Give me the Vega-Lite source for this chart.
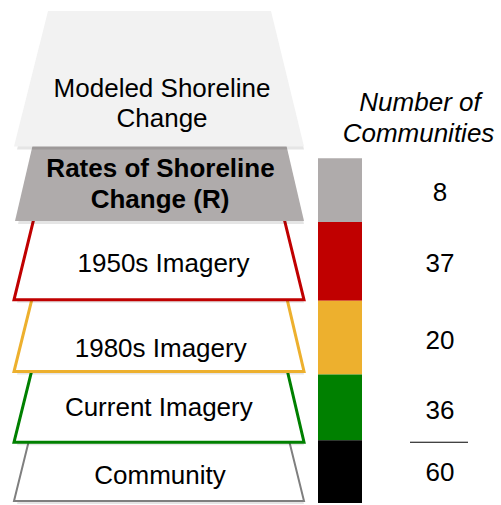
{
  "$schema": "https://vega.github.io/schema/vega-lite/v6.json",
  "width": 501,
  "height": 505,
  "padding": 0,
  "autosize": {"type": "fit", "contains": "padding"},
  "background": "white",
  "config": {"view": {"stroke": null}, "axis": {"disable": true}},
  "datasets": {
    "shapes": [
      {"tier": "Community", "y": 442, "xl": 29, "xr": 289},
      {"tier": "Community", "y": 503, "xl": 14, "xr": 304},
      {"tier": "Current", "y": 371, "xl": 32, "xr": 287},
      {"tier": "Current", "y": 444, "xl": 14, "xr": 304},
      {"tier": "1980s", "y": 300, "xl": 32, "xr": 287},
      {"tier": "1980s", "y": 373, "xl": 14, "xr": 304},
      {"tier": "1950s", "y": 219, "xl": 34, "xr": 284},
      {"tier": "1950s", "y": 301, "xl": 14, "xr": 304},
      {"tier": "Rates", "y": 140, "xl": 34, "xr": 285},
      {"tier": "Rates", "y": 222, "xl": 15, "xr": 304},
      {"tier": "Modeled", "y": 11, "xl": 48, "xr": 271},
      {"tier": "Modeled", "y": 147, "xl": 14, "xr": 304}
    ],
    "labels": [
      {"text": "Modeled Shoreline", "x": 162, "y": 97, "weight": "normal"},
      {"text": "Change", "x": 162, "y": 128, "weight": "normal"},
      {"text": "Rates of Shoreline", "x": 160.5, "y": 178, "weight": "bold"},
      {"text": "Change (R)", "x": 160, "y": 209, "weight": "bold"},
      {"text": "1950s Imagery", "x": 163.5, "y": 273, "weight": "normal"},
      {"text": "1980s Imagery", "x": 160.7, "y": 358, "weight": "normal"},
      {"text": "Current Imagery", "x": 158.8, "y": 418, "weight": "normal"},
      {"text": "Community", "x": 160, "y": 486, "weight": "normal"}
    ],
    "bars": [
      {"tier": "Rates", "top": 159, "bottom": 223, "count": 8, "ty": 202},
      {"tier": "1950s", "top": 223, "bottom": 302, "count": 37, "ty": 273},
      {"tier": "1980s", "top": 302, "bottom": 376, "count": 20, "ty": 350},
      {"tier": "Current", "top": 376, "bottom": 442, "count": 36, "ty": 421},
      {"tier": "Community", "top": 442, "bottom": 505, "count": 60, "ty": 483}
    ],
    "titles": [
      {"text": "Number of", "x": 420, "y": 111},
      {"text": "Communities", "x": 418.5, "y": 143}
    ],
    "totalLine": [{"x": 410, "x2": 468, "y": 444}]
  },
  "layer": [
    {
      "data": {"name": "shapes"},
      "transform": [{"filter": "datum.tier === 'Community'"}],
      "mark": {"type": "area", "orient": "horizontal", "fill": "#000000", "opacity": 0.1, "xOffset": 3, "yOffset": 3},
      "encoding": {
        "y": {"field": "y", "type": "quantitative", "scale": {"domain": [0, 505], "reverse": true, "nice": false, "zero": false}},
        "x": {"field": "xl", "type": "quantitative", "scale": {"domain": [0, 501], "nice": false, "zero": false}},
        "x2": {"field": "xr"}
      }
    },
    {
      "data": {"name": "shapes"},
      "transform": [{"filter": "datum.tier === 'Community'"}],
      "mark": {"type": "area", "orient": "horizontal", "fill": "white", "stroke": "#7f7f7f", "strokeWidth": 2, "strokeJoin": "miter"},
      "encoding": {
        "y": {"field": "y", "type": "quantitative", "scale": {"domain": [0, 505], "reverse": true, "nice": false, "zero": false}},
        "x": {"field": "xl", "type": "quantitative", "scale": {"domain": [0, 501], "nice": false, "zero": false}},
        "x2": {"field": "xr"}
      }
    },
    {
      "data": {"name": "shapes"},
      "transform": [{"filter": "datum.tier === 'Current'"}],
      "mark": {"type": "area", "orient": "horizontal", "fill": "#000000", "opacity": 0.1, "xOffset": 3, "yOffset": 3},
      "encoding": {
        "y": {"field": "y", "type": "quantitative", "scale": {"domain": [0, 505], "reverse": true, "nice": false, "zero": false}},
        "x": {"field": "xl", "type": "quantitative", "scale": {"domain": [0, 501], "nice": false, "zero": false}},
        "x2": {"field": "xr"}
      }
    },
    {
      "data": {"name": "shapes"},
      "transform": [{"filter": "datum.tier === 'Current'"}],
      "mark": {"type": "area", "orient": "horizontal", "fill": "white", "stroke": "#008000", "strokeWidth": 3, "strokeJoin": "miter"},
      "encoding": {
        "y": {"field": "y", "type": "quantitative", "scale": {"domain": [0, 505], "reverse": true, "nice": false, "zero": false}},
        "x": {"field": "xl", "type": "quantitative", "scale": {"domain": [0, 501], "nice": false, "zero": false}},
        "x2": {"field": "xr"}
      }
    },
    {
      "data": {"name": "shapes"},
      "transform": [{"filter": "datum.tier === '1980s'"}],
      "mark": {"type": "area", "orient": "horizontal", "fill": "#000000", "opacity": 0.1, "xOffset": 3, "yOffset": 3},
      "encoding": {
        "y": {"field": "y", "type": "quantitative", "scale": {"domain": [0, 505], "reverse": true, "nice": false, "zero": false}},
        "x": {"field": "xl", "type": "quantitative", "scale": {"domain": [0, 501], "nice": false, "zero": false}},
        "x2": {"field": "xr"}
      }
    },
    {
      "data": {"name": "shapes"},
      "transform": [{"filter": "datum.tier === '1980s'"}],
      "mark": {"type": "area", "orient": "horizontal", "fill": "white", "stroke": "#edb02e", "strokeWidth": 3, "strokeJoin": "miter"},
      "encoding": {
        "y": {"field": "y", "type": "quantitative", "scale": {"domain": [0, 505], "reverse": true, "nice": false, "zero": false}},
        "x": {"field": "xl", "type": "quantitative", "scale": {"domain": [0, 501], "nice": false, "zero": false}},
        "x2": {"field": "xr"}
      }
    },
    {
      "data": {"name": "shapes"},
      "transform": [{"filter": "datum.tier === '1950s'"}],
      "mark": {"type": "area", "orient": "horizontal", "fill": "#000000", "opacity": 0.1, "xOffset": 3, "yOffset": 3},
      "encoding": {
        "y": {"field": "y", "type": "quantitative", "scale": {"domain": [0, 505], "reverse": true, "nice": false, "zero": false}},
        "x": {"field": "xl", "type": "quantitative", "scale": {"domain": [0, 501], "nice": false, "zero": false}},
        "x2": {"field": "xr"}
      }
    },
    {
      "data": {"name": "shapes"},
      "transform": [{"filter": "datum.tier === '1950s'"}],
      "mark": {"type": "area", "orient": "horizontal", "fill": "white", "stroke": "#c00000", "strokeWidth": 3, "strokeJoin": "miter"},
      "encoding": {
        "y": {"field": "y", "type": "quantitative", "scale": {"domain": [0, 505], "reverse": true, "nice": false, "zero": false}},
        "x": {"field": "xl", "type": "quantitative", "scale": {"domain": [0, 501], "nice": false, "zero": false}},
        "x2": {"field": "xr"}
      }
    },
    {
      "data": {"name": "shapes"},
      "transform": [{"filter": "datum.tier === 'Rates'"}],
      "mark": {"type": "area", "orient": "horizontal", "fill": "#000000", "opacity": 0.1, "xOffset": 3, "yOffset": 3},
      "encoding": {
        "y": {"field": "y", "type": "quantitative", "scale": {"domain": [0, 505], "reverse": true, "nice": false, "zero": false}},
        "x": {"field": "xl", "type": "quantitative", "scale": {"domain": [0, 501], "nice": false, "zero": false}},
        "x2": {"field": "xr"}
      }
    },
    {
      "data": {"name": "shapes"},
      "transform": [{"filter": "datum.tier === 'Rates'"}],
      "mark": {"type": "area", "orient": "horizontal", "fill": "#afabab"},
      "encoding": {
        "y": {"field": "y", "type": "quantitative", "scale": {"domain": [0, 505], "reverse": true, "nice": false, "zero": false}},
        "x": {"field": "xl", "type": "quantitative", "scale": {"domain": [0, 501], "nice": false, "zero": false}},
        "x2": {"field": "xr"}
      }
    },
    {
      "data": {"name": "shapes"},
      "transform": [{"filter": "datum.tier === 'Modeled'"}],
      "mark": {"type": "area", "orient": "horizontal", "fill": "#000000", "opacity": 0.1, "xOffset": 3, "yOffset": 3},
      "encoding": {
        "y": {"field": "y", "type": "quantitative", "scale": {"domain": [0, 505], "reverse": true, "nice": false, "zero": false}},
        "x": {"field": "xl", "type": "quantitative", "scale": {"domain": [0, 501], "nice": false, "zero": false}},
        "x2": {"field": "xr"}
      }
    },
    {
      "data": {"name": "shapes"},
      "transform": [{"filter": "datum.tier === 'Modeled'"}],
      "mark": {"type": "area", "orient": "horizontal", "fill": "#f2f2f2"},
      "encoding": {
        "y": {"field": "y", "type": "quantitative", "scale": {"domain": [0, 505], "reverse": true, "nice": false, "zero": false}},
        "x": {"field": "xl", "type": "quantitative", "scale": {"domain": [0, 501], "nice": false, "zero": false}},
        "x2": {"field": "xr"}
      }
    },
    {
      "data": {"name": "labels"},
      "transform": [{"filter": "datum.weight === 'normal'"}],
      "mark": {"type": "text", "font": "Liberation Sans", "fontSize": 26, "align": "center", "baseline": "alphabetic", "color": "#000000"},
      "encoding": {
        "x": {"field": "x", "type": "quantitative", "scale": {"domain": [0, 501], "nice": false, "zero": false}},
        "y": {"field": "y", "type": "quantitative", "scale": {"domain": [0, 505], "reverse": true, "nice": false, "zero": false}},
        "text": {"field": "text"}
      }
    },
    {
      "data": {"name": "labels"},
      "transform": [{"filter": "datum.weight === 'bold'"}],
      "mark": {"type": "text", "font": "Liberation Sans", "fontSize": 26, "fontWeight": "bold", "align": "center", "baseline": "alphabetic", "color": "#000000"},
      "encoding": {
        "x": {"field": "x", "type": "quantitative", "scale": {"domain": [0, 501], "nice": false, "zero": false}},
        "y": {"field": "y", "type": "quantitative", "scale": {"domain": [0, 505], "reverse": true, "nice": false, "zero": false}},
        "text": {"field": "text"}
      }
    },
    {
      "data": {"name": "bars"},
      "mark": {"type": "rect"},
      "encoding": {
        "x": {"datum": 318, "type": "quantitative", "scale": {"domain": [0, 501], "nice": false, "zero": false}},
        "x2": {"datum": 362},
        "y": {"field": "top", "type": "quantitative", "scale": {"domain": [0, 505], "reverse": true, "nice": false, "zero": false}},
        "y2": {"field": "bottom"},
        "fill": {"field": "tier", "type": "nominal", "legend": null, "scale": {"domain": ["Rates", "1950s", "1980s", "Current", "Community"], "range": ["#afabab", "#c00000", "#edb02e", "#008000", "#000000"]}}
      }
    },
    {
      "data": {"name": "bars"},
      "mark": {"type": "text", "font": "Liberation Sans", "fontSize": 26, "align": "center", "baseline": "alphabetic", "color": "#000000"},
      "encoding": {
        "x": {"datum": 440, "type": "quantitative", "scale": {"domain": [0, 501], "nice": false, "zero": false}},
        "y": {"field": "ty", "type": "quantitative", "scale": {"domain": [0, 505], "reverse": true, "nice": false, "zero": false}},
        "text": {"field": "count"}
      }
    },
    {
      "data": {"name": "titles"},
      "mark": {"type": "text", "font": "Liberation Sans", "fontSize": 26, "fontStyle": "italic", "align": "center", "baseline": "alphabetic", "color": "#000000"},
      "encoding": {
        "x": {"field": "x", "type": "quantitative", "scale": {"domain": [0, 501], "nice": false, "zero": false}},
        "y": {"field": "y", "type": "quantitative", "scale": {"domain": [0, 505], "reverse": true, "nice": false, "zero": false}},
        "text": {"field": "text"}
      }
    },
    {
      "data": {"name": "totalLine"},
      "mark": {"type": "rule", "color": "#000000", "strokeWidth": 1},
      "encoding": {
        "x": {"field": "x", "type": "quantitative", "scale": {"domain": [0, 501], "nice": false, "zero": false}},
        "x2": {"field": "x2"},
        "y": {"field": "y", "type": "quantitative", "scale": {"domain": [0, 505], "reverse": true, "nice": false, "zero": false}}
      }
    }
  ]
}
